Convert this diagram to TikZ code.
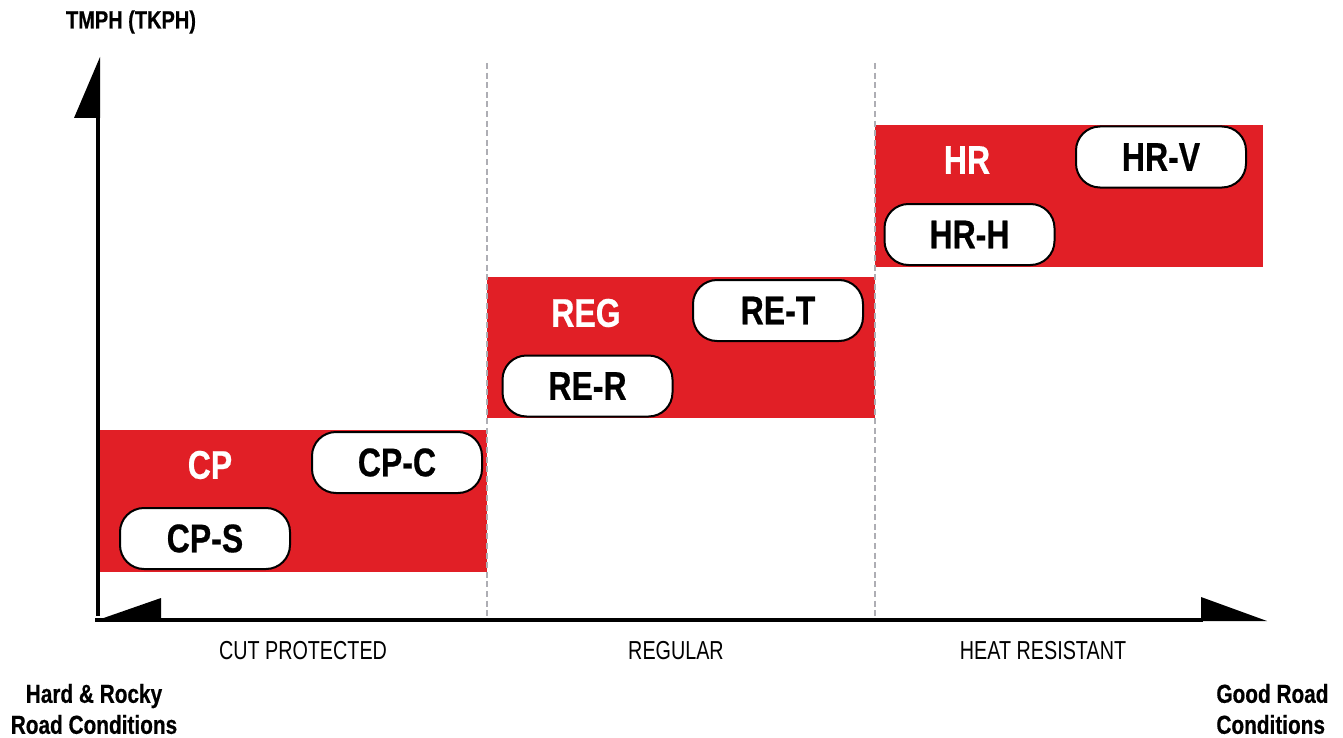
\documentclass[tikz,border=0pt]{standalone}
\usepackage{fontspec}
\setmainfont{Liberation Sans}
\newfontfamily\condbold[FakeStretch=0.8,FakeBold=0.5]{Liberation Sans Bold}
\newfontfamily\condreg[FakeStretch=0.76]{Liberation Sans}
\definecolor{tirered}{HTML}{E11F26}
\definecolor{dashgray}{HTML}{AEAEB4}
\tikzset{
  band/.style={fill=tirered, draw=none},
  pill/.style={draw=black, line width=1pt, fill=white, rounded corners=12pt,
    minimum width=85pt, minimum height=30.5pt, inner sep=0pt,
    font=\condbold\fontsize{20}{20}\selectfont},
  bandlabel/.style={text=white, inner sep=0pt, font=\condbold\fontsize{20}{20}\selectfont},
  catlabel/.style={inner sep=0pt, font=\condreg\fontsize{13}{14}\selectfont},
  endlabel/.style={inner sep=0pt, font=\condbold\fontsize{13}{15.5}\selectfont},
  divider/.style={draw=dashgray, line width=1.3pt, dash pattern=on 3pt off 1.8pt},
  axisline/.style={line width=2pt, draw=black},
  halfhead/.style={fill=black, draw=none}
}
\begin{document}
\begin{tikzpicture}[x=0.5pt,y=-0.5pt]
\useasboundingbox (0,0) rectangle (1343,738);
% bands
\fill[band] (100,430) rectangle (487,572);
\fill[band] (487,277) rectangle (875,418);
\fill[band] (875,125) rectangle (1263,267);
% dividers
\coordinate (d1top) at (487,63); \coordinate (d1bot) at (487,620);
\coordinate (d2top) at (875,63); \coordinate (d2bot) at (875,620);
\draw[divider] (d1top) -- (d1bot);
\draw[divider] (d2top) -- (d2bot);
% axes
\coordinate (origin) at (98,620);
\coordinate (ytop) at (98,116);
\coordinate (xend) at (1203,620);
\draw[axisline] (98,616) -- (ytop);
\draw[axisline, line width=1.8pt] (95,620) -- (xend);
\fill[halfhead] (100,57) -- (100,118) -- (74,118) -- cycle;
\fill[halfhead] (1201,597) -- (1201,621) -- (1267,621) -- cycle;
\fill[halfhead] (95,621) -- (161,598) -- (161,621) -- cycle;
% band labels
\node[bandlabel] (cp) at (210,465) {CP};
\node[bandlabel] (reg) at (586,313) {REG};
\node[bandlabel] (hr) at (967,160) {HR};
% pills
\node[pill] (cpc) at (397,462.5) {CP-C};
\node[pill] (cps) at (205,538.5) {CP-S};
\node[pill] (rer) at (587.5,386) {RE-R};
\node[pill] (ret) at (778,310.5) {RE-T};
\node[pill] (hrh) at (969.5,234.5) {HR-H};
\node[pill] (hrv) at (1161,157) {HR-V};
% axis titles
\node[inner sep=0pt, font=\condbold\fontsize{12.5}{14}\selectfont] (ytitle) at (131,22) {TMPH (TKPH)};
\node[catlabel] (cut) at (303,651) {CUT PROTECTED};
\node[catlabel] (regular) at (676,651) {REGULAR};
\node[catlabel] (heat) at (1043,651) {HEAT RESISTANT};
\node[endlabel, align=center] (hard) at (94,709) {Hard \& Rocky\\Road Conditions};
\node[endlabel, align=left, anchor=west] (good) at (1216,709) {Good Road\\Conditions};
\end{tikzpicture}
\end{document}
